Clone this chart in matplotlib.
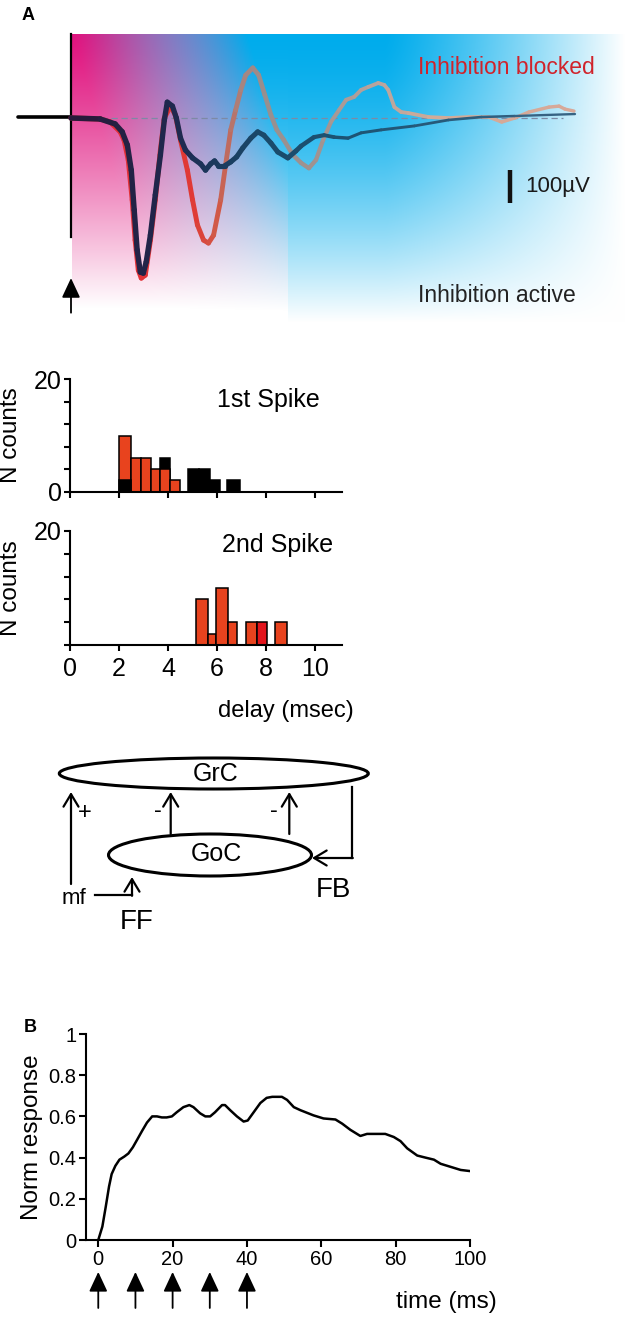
import numpy as np
import matplotlib
matplotlib.use("Agg")
import matplotlib.pyplot as plt
from matplotlib.collections import LineCollection
from matplotlib.patches import Ellipse
from matplotlib.colors import to_rgb

plt.rcParams['font.family'] = ['Liberation Sans', 'DejaVu Sans']

# ---- panel A: field potential traces (time in ms, amplitude in uV) ----
blocked_t = [0, 1.19, 1.60, 2.01, 2.17, 2.34, 2.50, 2.62, 2.75, 2.87, 3.03, 3.24, 3.44, 3.65,
             3.81, 4.06, 4.26, 4.47, 4.75, 4.96, 5.16, 5.41, 5.61, 5.82, 6.11, 6.31, 6.52, 6.72,
             6.93, 7.13, 7.42, 7.66, 7.91, 8.16, 8.40, 8.69, 9.06, 9.39, 9.71, 10.0, 10.29,
             10.61, 10.94, 11.23, 11.56, 11.84, 12.13, 12.54, 12.79, 12.95, 13.20, 13.48, 13.77,
             14.59, 15.41, 16.23, 17.05, 17.58, 18.11, 18.69, 19.51, 19.92, 20.16, 20.53]
blocked_uv = [0, -3, -12, -42, -67, -127, -248, -370, -461, -485, -476, -370, -248, -97,
              0, 36, 9, -67, -158, -248, -324, -370, -379, -355, -248, -142, -36, 24,
              85, 130, 152, 130, 70, 9, -36, -67, -112, -136, -152, -127, -67,
              -12, 24, 55, 64, 85, 94, 106, 100, 85, 33, 18, 15,
              3, 0, 3, 3, -12, 0, 18, 33, 36, 27, 21]

active_t = [0, 1.19, 1.80, 2.09, 2.30, 2.46, 2.58, 2.70, 2.83, 2.95, 3.07, 3.24, 3.44, 3.65,
            3.81, 3.93, 4.14, 4.30, 4.47, 4.67, 4.96, 5.29, 5.49, 5.70, 5.86, 6.02, 6.27, 6.52,
            6.76, 7.01, 7.34, 7.62, 7.87, 8.16, 8.44, 8.85, 9.18, 9.39, 9.92, 10.33, 10.74,
            11.31, 11.84, 12.66, 14.02, 15.41, 16.76, 18.11, 20.57]
active_uv = [0, -3, -18, -42, -82, -158, -279, -400, -467, -470, -436, -355, -233, -112,
             -6, 48, 36, 0, -61, -97, -121, -139, -158, -139, -130, -145, -145, -133,
             -118, -91, -61, -42, -52, -76, -103, -121, -100, -85, -58, -52, -58,
             -61, -45, -36, -24, -6, 3, 6, 12]

# ---- spike latency histograms (ms bins, counts) ----
spike1_red_edges = [2.02, 2.50, 2.91, 3.31, 3.66, 4.07, 4.50]
spike1_red_counts = [10, 6, 6, 4, 4, 2]
spike1_black_left = [2.02, 3.66, 4.83, 5.27, 5.71, 6.41]
spike1_black_right = [2.50, 4.07, 5.27, 5.71, 6.12, 6.94]
spike1_black_counts = [2, 6, 4, 4, 2, 2]

spike2_left = [5.15, 5.63, 5.97, 6.45, 7.17, 7.65, 8.36]
spike2_right = [5.63, 5.97, 6.45, 6.83, 7.65, 8.05, 8.84]
spike2_counts = [8, 2, 10, 4, 4, 4, 4]
spike2_colors = ['#e8431e', '#e8431e', '#e8431e', '#e8431e', '#e8431e', '#e3141c', '#e8431e']

# ---- panel B: normalized response ----
resp_t = [0, 1.1, 2.0, 2.9, 3.6, 4.6, 5.7, 7.0, 8.1, 9.3, 10.4, 11.8, 13.1, 14.5, 15.8, 17.1,
          18.4, 19.8, 21.1, 22.9, 24.5, 25.6, 27.4, 28.8, 30.1, 31.4, 33.3, 34.1, 35.5, 37.3,
          39.1, 40.2, 41.8, 43.6, 45.3, 46.8, 49.4, 50.8, 52.6, 54.4, 57.9, 60.6, 63.8, 65.6,
          67.8, 70.5, 72.3, 75.9, 77.2, 79.5, 81.3, 83.1, 85.8, 88.0, 90.3, 92.1, 94.8, 97.5, 99.8]
resp_val = [0, 0.065, 0.16, 0.26, 0.32, 0.36, 0.39, 0.405, 0.42, 0.45, 0.485, 0.53, 0.57, 0.60,
            0.60, 0.595, 0.595, 0.60, 0.62, 0.645, 0.655, 0.645, 0.615, 0.60, 0.60, 0.62, 0.655,
            0.655, 0.63, 0.60, 0.575, 0.58, 0.62, 0.665, 0.69, 0.695, 0.695, 0.68, 0.645, 0.63,
            0.605, 0.59, 0.585, 0.565, 0.535, 0.505, 0.515, 0.515, 0.515, 0.50, 0.48, 0.445,
            0.41, 0.40, 0.39, 0.37, 0.355, 0.34, 0.335]
stim_times = [0, 10, 20, 30, 40]

W, H = 630, 1321
fig = plt.figure(figsize=(W / 100, H / 100), dpi=100)


def px_axes(x0, y0, x1, y1):
    return fig.add_axes([x0 / W, 1 - y1 / H, (x1 - x0) / W, (y1 - y0) / H])


# background canvas in pixel units (gradient + circuit diagram)
bg = fig.add_axes([0, 0, 1, 1], zorder=0)
bg.set_xlim(0, W)
bg.set_ylim(H, 0)
bg.axis('off')

gx0, gx1, gy0, gy1 = 72, 625, 34, 326
xs, ys = np.meshgrid(np.arange(gx0, gx1) + 0.5, np.arange(gy0, gy1) + 0.5)
magenta = np.array([224, 18, 126]) / 255
cyan = np.array([0, 172, 236]) / 255
left = xs < 288
t = np.clip((xs - 72 - 0.3 * (ys - 34)) / 175, 0, 1) ** 1.15
t = np.where(left, t, 1.0)
base = magenta[None, None, :] * (1 - t[..., None]) + cyan[None, None, :] * t[..., None]
yy = np.clip((ys - 34) / 288, 0, 1)
expo = 1.15 + 0.4 * t
wv = yy ** expo
wv = np.where(left, np.minimum(1, wv * 1.06), wv)
wmid = np.where(left, 0.16 * np.sin(np.pi * t), 0.0)
hx = np.clip((xs - 385) / 240, 0, 1) ** 1.2
w = 1 - (1 - wv) * (1 - hx) * (1 - wmid)
img = base * (1 - w[..., None]) + w[..., None]
bg.imshow(img, extent=(gx0, gx1, gy1, gy0), aspect='auto', interpolation='bilinear')

# ---- panel A traces ----
px_per_ms, uv_per_px, x_t0, y_v0 = 24.5, 3.03, 71, 118
axA = px_axes(0, 0, W, 330)
axA.set_xlim(-x_t0 / px_per_ms, (W - x_t0) / px_per_ms)
axA.set_ylim((y_v0 - 330) * uv_per_px, y_v0 * uv_per_px)
axA.axis('off')
axA.patch.set_alpha(0)


def trace(ax, tt, vv, stops, widths, z):
    tt = np.asarray(tt, float)
    vv = np.asarray(vv, float)
    pts = np.column_stack([tt, vv])
    segs = np.stack([pts[:-1], pts[1:]], axis=1)
    mid = (tt[:-1] + tt[1:]) / 2
    st = np.array([s[0] for s in stops])
    cols = np.array([to_rgb(s[1]) for s in stops])
    rgb = np.column_stack([np.interp(mid, st, cols[:, k]) for k in range(3)])
    lw = np.interp(mid, [x[0] for x in widths], [x[1] for x in widths])
    lc = LineCollection(segs, colors=rgb, linewidths=lw, capstyle='round', joinstyle='round',
                        zorder=z)
    ax.add_collection(lc)


# baseline, stimulus artifact and stimulus marker
axA.plot([0, 20.1], [0, 0], ls=(0, (5, 3)), color='#7d8aa5', lw=0.9, zorder=2)
axA.plot([-2.16, 0], [3, 3], color='black', lw=2.6, solid_capstyle='round', zorder=3)
axA.plot([0, 0], [255, -360], color='black', lw=1.6, zorder=3)
axA.annotate('', xy=(0, -485), xytext=(0, -590),
             arrowprops=dict(arrowstyle='-|>,head_length=0.6,head_width=0.28',
                             mutation_scale=20, lw=1.3, color='black', shrinkA=0, shrinkB=0))

trace(axA, blocked_t, blocked_uv,
      [(0, '#e4283a'), (5.0, '#e03a35'), (6.0, '#d05a48'), (7.0, '#a88480'), (8.0, '#969090'),
       (10.0, '#a09290'), (12.5, '#b8a49e'), (15, '#d2ab98'), (20.6, '#d8a898')],
      [(0, 3.8), (8, 3.4), (12, 2.8), (20.6, 2.4)], 4)
trace(axA, active_t, active_uv,
      [(0, '#2a1838'), (4.5, '#1e2a50'), (6, '#1a3a5e'), (8, '#1a4a6a'), (12, '#1d5575'),
       (20.6, '#3a6585')],
      [(0, 4.0), (9, 3.6), (11.5, 2.2), (20.6, 1.6)], 5)

# scale bar
sb_t, sb_top, sb_uv = 17.9, -158, 100
axA.plot([sb_t, sb_t], [sb_top, sb_top - sb_uv], color='#111111', lw=3.2, solid_capstyle='butt')
axA.text(sb_t + 0.65, sb_top - sb_uv / 2, '100\u00b5V', fontsize=16, va='center', ha='left',
         color='#1a1a1a')
axA.text(14.15, (y_v0 - 67) * uv_per_px, 'Inhibition blocked', fontsize=16.5, color='#d0232b',
         va='center', ha='left')
axA.text(14.15, (y_v0 - 296) * uv_per_px, 'Inhibition active', fontsize=16.5, color='#222222',
         va='center', ha='left')
fig.text(28 / W, 1 - 16 / H, 'A', fontsize=13, fontweight='bold', ha='center', va='center')

# ---- histograms ----
def style_hist(ax):
    ax.set_xlim(0, 11.1)
    ax.set_ylim(0, 20)
    for s in ('top', 'right'):
        ax.spines[s].set_visible(False)
    for s in ('left', 'bottom'):
        ax.spines[s].set_linewidth(1.5)
    ax.tick_params(direction='out', length=4, width=1.5, labelsize=18, pad=2)
    ax.set_xticks([0, 2, 4, 6, 8, 10])
    ax.set_yticks([0, 4, 8, 12, 16, 20])
    ax.patch.set_alpha(0)
    ax.set_ylabel('N counts', fontsize=17.5, labelpad=2)


ax1 = px_axes(70, 379.3, 342, 491.7)
style_hist(ax1)
ax1.set_xticklabels([])
ax1.set_yticklabels(['0', '', '', '', '', '20'])
red_l = np.array(spike1_red_edges[:-1])
red_w = np.diff(spike1_red_edges)
ax1.bar(red_l, spike1_red_counts, width=red_w, align='edge', color='#e8431e',
        edgecolor='black', lw=1.1, zorder=2)
for l, r, c in zip(spike1_black_left, spike1_black_right, spike1_black_counts):
    idx = np.where(np.isclose(red_l, l))[0]
    z = 3 if len(idx) and c < spike1_red_counts[idx[0]] else 1
    ax1.bar(l, c, width=r - l, align='edge', color='black', edgecolor='black', lw=1.1, zorder=z)
ax1.text(6.0, 16.3, '1st Spike', fontsize=18, va='center', ha='left')

ax2 = px_axes(70, 531, 342, 645)
style_hist(ax2)
ax2.set_yticklabels(['', '', '', '', '', '20'])
ax2.tick_params(axis='x', pad=5)
ax2.bar(spike2_left, spike2_counts, width=np.subtract(spike2_right, spike2_left), align='edge',
        color=spike2_colors, edgecolor='black', lw=1.1, zorder=2)
ax2.text(6.2, 17.5, '2nd Spike', fontsize=18, va='center', ha='left')
ax2.set_xlabel('delay (msec)', fontsize=17, labelpad=0)
ax2.xaxis.set_label_coords((286 - 70) / 272, -0.48)
for ax in (ax1, ax2):
    ax.yaxis.set_label_coords(-0.175, 0.5)

# ---- circuit diagram (pixel units) ----
dlw = 2.2
bg.add_patch(Ellipse((213.8, 773.5), 309, 31, fill=False, lw=dlw, color='black'))
bg.add_patch(Ellipse((210, 855), 203, 42, fill=False, lw=dlw, color='black'))
bg.text(216, 774, 'GrC', fontsize=18, ha='center', va='center')
bg.text(216, 854, 'GoC', fontsize=18, ha='center', va='center')
arr = dict(arrowstyle='->,head_length=0.5,head_width=0.3', mutation_scale=18, lw=1.6,
           color='black', shrinkA=0, shrinkB=0)
bg.annotate('', xy=(71, 792), xytext=(71, 884), arrowprops=arr)
bg.annotate('', xy=(170.7, 792), xytext=(170.7, 834), arrowprops=arr)
bg.annotate('', xy=(289.3, 792), xytext=(289.3, 834), arrowprops=arr)
bg.plot([352, 352], [787, 858], color='black', lw=1.6)
bg.annotate('', xy=(312, 858), xytext=(352.8, 858), arrowprops=arr)
bg.plot([95, 132], [895, 895], color='black', lw=1.6)
bg.annotate('', xy=(132, 877), xytext=(132, 895.8), arrowprops=arr)
bg.text(85, 813, '+', fontsize=17, ha='center', va='center')
bg.text(158, 811, '-', fontsize=17, ha='center', va='center')
bg.text(274, 811, '-', fontsize=17, ha='center', va='center')
bg.text(74, 898, 'mf', fontsize=16, ha='center', va='center')
bg.text(137, 922, 'FF', fontsize=20, ha='center', va='center')
bg.text(333.5, 890, 'FB', fontsize=20, ha='center', va='center')

# ---- panel B ----
axB = px_axes(86, 1034, 470, 1240)
axB.set_xlim(-3.3, 100)
axB.set_ylim(0, 1)
axB.plot(resp_t, resp_val, color='black', lw=1.8)
for s in ('top', 'right'):
    axB.spines[s].set_visible(False)
for s in ('left', 'bottom'):
    axB.spines[s].set_linewidth(1.5)
axB.set_xticks([0, 20, 40, 60, 80, 100])
axB.set_yticks([0, 0.2, 0.4, 0.6, 0.8, 1])
axB.set_yticklabels(['0', '0.2', '0.4', '0.6', '0.8', '1'])
axB.tick_params(direction='out', length=5, width=1.5, labelsize=14.5, pad=2)
axB.set_ylabel('Norm response', fontsize=17.5, labelpad=4)
axB.patch.set_alpha(0)
for st_ in stim_times:
    axB.annotate('', xy=(st_, -0.155), xytext=(st_, -0.33), annotation_clip=False,
                 arrowprops=dict(arrowstyle='-|>,head_length=0.6,head_width=0.28',
                                 mutation_scale=20, lw=1.3, color='black', shrinkA=0, shrinkB=0))
axB.text(80, -0.30, 'time (ms)', fontsize=17.5, ha='left', va='center')
fig.text(30 / W, 1 - 1028 / H, 'B', fontsize=13, fontweight='bold', ha='center', va='center')

fig.savefig('out.png', dpi=100)
